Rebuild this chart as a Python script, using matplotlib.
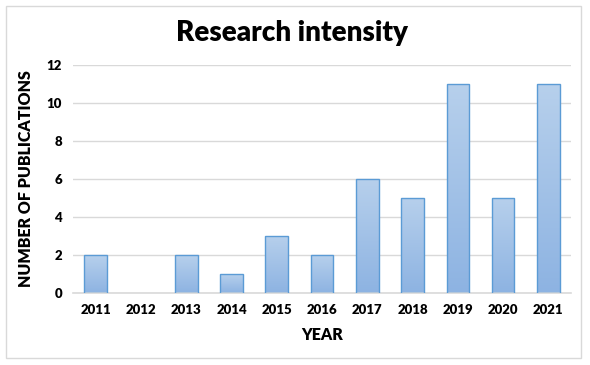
import matplotlib
matplotlib.use("Agg")
import matplotlib.pyplot as plt
import numpy as np
from matplotlib.colors import LinearSegmentedColormap
from matplotlib.patches import Rectangle

years = ["2011", "2012", "2013", "2014", "2015", "2016", "2017", "2018", "2019", "2020", "2021"]
publications = [2, 0, 2, 1, 3, 2, 6, 5, 11, 5, 11]
yticks = [0, 2, 4, 6, 8, 10, 12]

plt.rcParams['font.family'] = ['Lato', 'DejaVu Sans']

fig = plt.figure(figsize=(5.9, 3.65), dpi=100)
fig.patches.append(Rectangle((6/590, 1-358/365), 575/590, 352/365, transform=fig.transFigure,
                             fill=False, edgecolor='#d9d9d9', linewidth=1.0))
ax = fig.add_axes([73/590, 1-293/365, 498/590, 228/365])

x = np.arange(len(years))
bars = ax.bar(x, publications, width=0.5, color='none', edgecolor='#5b9bd5', linewidth=1.0, zorder=3)
cmap = LinearSegmentedColormap.from_list('g', ['#8db3e2', '#b7d0ec'])
grad = np.linspace(0, 1, 256).reshape(-1, 1)
for b in bars:
    h = b.get_height()
    if h <= 0:
        b.set_linewidth(0)
        continue
    x0 = b.get_x()
    im = ax.imshow(grad, cmap=cmap, origin='lower', aspect='auto',
                   extent=(x0, x0 + b.get_width(), 0, h), zorder=2)
    im.set_clip_path(b)

ax.set_xlim(-0.5, len(years) - 0.5)
ax.set_ylim(0, 12)
ax.set_xticks(x)
ax.set_xticklabels(years, fontsize=9.5, fontweight='heavy')
ax.set_yticks(yticks)
ax.set_yticklabels([str(v) for v in yticks], fontsize=9.5, fontweight='heavy')
ax.tick_params(length=0, pad=8)
ax.grid(axis='y', color='#d9d9d9', linewidth=1.0, zorder=0)
ax.set_axisbelow(True)
for s in ['top', 'right', 'left']:
    ax.spines[s].set_visible(False)
ax.spines['bottom'].set_color('#d9d9d9')
ax.spines['bottom'].set_linewidth(1.2)

ax.set_xlabel("YEAR", fontsize=11.5, fontweight='heavy', labelpad=8)
ax.set_ylabel("NUMBER OF PUBLICATIONS", fontsize=11.5, fontweight='heavy', labelpad=9)
fig.text(0.495, 1-33/365, "Research intensity", ha='center', va='center', fontsize=20, fontweight='heavy')

fig.savefig("out.png", dpi=100)
